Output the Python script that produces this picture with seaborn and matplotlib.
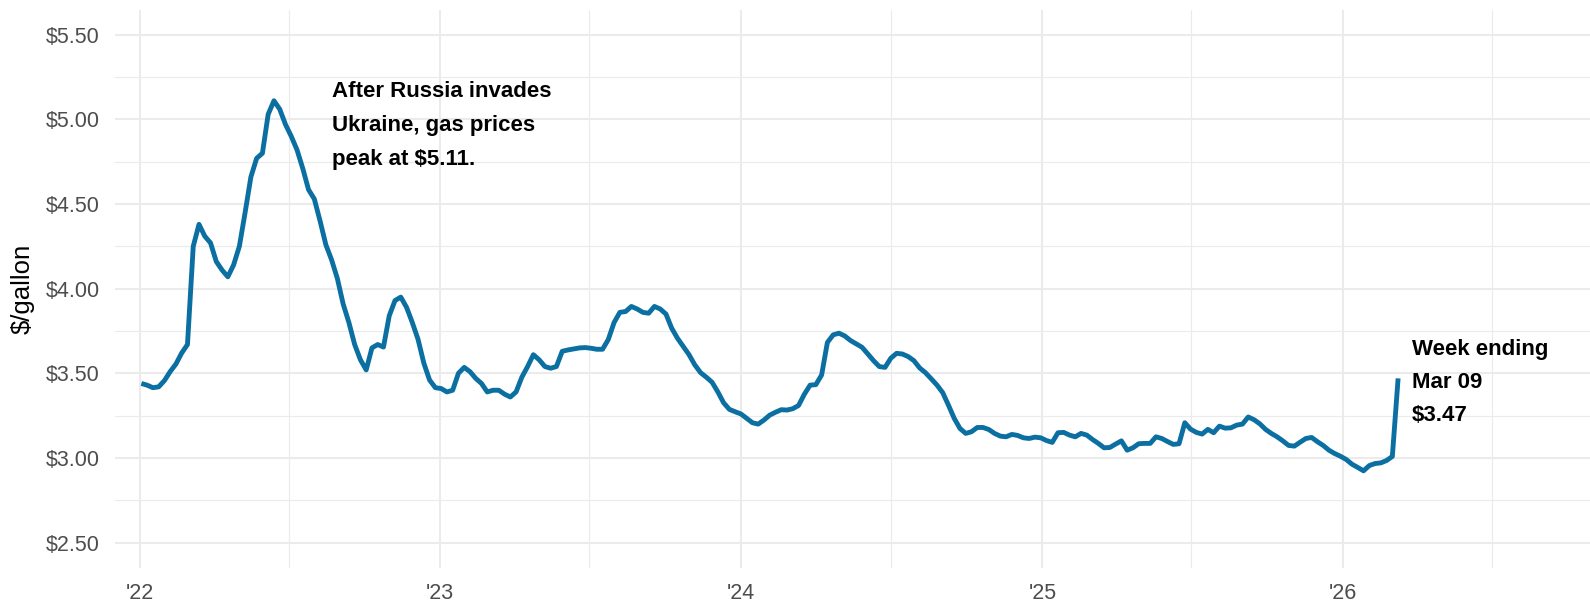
import pandas as pd
import matplotlib.pyplot as plt
import seaborn as sns
from matplotlib.ticker import FuncFormatter, FixedLocator
import matplotlib.dates as mdates

# Precio semanal de la gasolina ($/galon), semanas desde 2022-01-03
week_start = "2022-01-03"

prices_2022 = [3.44, 3.43, 3.415, 3.42, 3.457, 3.51, 3.555, 3.62, 3.67, 4.25,
               4.38, 4.31, 4.27, 4.16, 4.11, 4.07, 4.14, 4.25, 4.45, 4.66,
               4.77, 4.80, 5.03, 5.11, 5.06, 4.97, 4.90, 4.82, 4.71, 4.585,
               4.53, 4.40, 4.26, 4.17, 4.06, 3.91, 3.80, 3.67, 3.58, 3.52,
               3.65, 3.67, 3.655, 3.84, 3.93, 3.95, 3.89, 3.80, 3.70, 3.56,
               3.46, 3.415]
prices_2023 = [3.41, 3.39, 3.40, 3.50, 3.535, 3.51, 3.47, 3.44, 3.39, 3.40,
               3.40, 3.377, 3.36, 3.39, 3.477, 3.54, 3.61, 3.58, 3.54, 3.53,
               3.54, 3.63, 3.638, 3.644, 3.65, 3.652, 3.648, 3.642, 3.642, 3.70,
               3.80, 3.86, 3.865, 3.895, 3.88, 3.86, 3.855, 3.895, 3.88, 3.85,
               3.766, 3.707, 3.658, 3.61, 3.55, 3.504, 3.477, 3.447, 3.39, 3.326,
               3.287, 3.273]
prices_2024 = [3.26, 3.234, 3.208, 3.20, 3.224, 3.253, 3.27, 3.285, 3.283, 3.291,
               3.31, 3.376, 3.43, 3.433, 3.49, 3.682, 3.727, 3.737, 3.721, 3.694,
               3.674, 3.654, 3.615, 3.575, 3.54, 3.535, 3.589, 3.618, 3.614, 3.599,
               3.575, 3.532, 3.504, 3.468, 3.431, 3.386, 3.312, 3.234, 3.174, 3.145,
               3.155, 3.18, 3.18, 3.168, 3.145, 3.129, 3.125, 3.139, 3.133, 3.119,
               3.115, 3.123]
prices_2025 = [3.119, 3.103, 3.092, 3.149, 3.151, 3.135, 3.125, 3.145, 3.135, 3.109,
               3.086, 3.06, 3.062, 3.082, 3.101, 3.046, 3.06, 3.084, 3.086, 3.086,
               3.125, 3.115, 3.097, 3.08, 3.084, 3.208, 3.17, 3.151, 3.141, 3.169,
               3.149, 3.188, 3.176, 3.178, 3.194, 3.20, 3.242, 3.226, 3.202, 3.169,
               3.145, 3.125, 3.101, 3.074, 3.07, 3.093, 3.115, 3.121, 3.096, 3.074,
               3.046, 3.026]
prices_2026 = [3.01, 2.991, 2.963, 2.944, 2.924, 2.955, 2.967, 2.971, 2.985, 3.009,
               3.47]

year_ticks = ["2022-01-01", "2023-01-01", "2024-01-01", "2025-01-01", "2026-01-01"]
year_labels = ["'22", "'23", "'24", "'25", "'26"]
mid_year_ticks = ["2022-07-01", "2023-07-01", "2024-07-01", "2025-07-01", "2026-07-01"]
price_ticks = [2.5, 3.0, 3.5, 4.0, 4.5, 5.0, 5.5]
price_minor = [2.75, 3.25, 3.75, 4.25, 4.75, 5.25]

peak_note = "After Russia invades\nUkraine, gas prices\npeak at $5.11."
last_note = "Week ending\nMar 09\n$3.47"

prices = prices_2022 + prices_2023 + prices_2024 + prices_2025 + prices_2026
df = pd.DataFrame({
    "week": pd.date_range(week_start, periods=len(prices), freq="7D"),
    "price": prices,
})

sns.set_theme(style="white")
plt.rcParams["font.family"] = ["Liberation Sans", "DejaVu Sans"]

fig = plt.figure(figsize=(15.9, 6.03), dpi=100)
ax = fig.add_axes([115 / 1590, 35 / 603, 1475 / 1590, 558 / 603])

sns.lineplot(data=df, x="week", y="price", color="#0C6FA2", linewidth=3.5,
             ax=ax, solid_capstyle="butt", solid_joinstyle="round")

ax.set_xlim(pd.Timestamp("2021-12-02"), pd.Timestamp("2026-10-28"))
ax.set_ylim(2.35, 5.646)

ax.set_xticks(pd.to_datetime(year_ticks))
ax.set_xticklabels(year_labels)
ax.xaxis.set_minor_locator(FixedLocator(mdates.date2num(pd.to_datetime(mid_year_ticks))))
ax.set_yticks(price_ticks)
ax.yaxis.set_minor_locator(FixedLocator(price_minor))
ax.yaxis.set_major_formatter(FuncFormatter(lambda v, p: f"${v:.2f}"))

ax.grid(which="major", color="#EBEBEB", linewidth=1.5)
ax.grid(which="minor", color="#EBEBEB", linewidth=0.8)
ax.tick_params(which="both", length=0)
ax.tick_params(axis="y", pad=10.8, labelsize=15.5, labelcolor="#4D4D4D")
ax.tick_params(axis="x", pad=10.8, labelsize=15.5, labelcolor="#4D4D4D")
sns.despine(ax=ax, left=True, bottom=True)

ax.set_xlabel("")
ax.set_ylabel("$/gallon", fontsize=18.5, color="black", labelpad=8)

ax.text(pd.Timestamp("2022-08-23"), 5.228, peak_note, ha="left", va="top",
        fontsize=16, fontweight="bold", color="black", linespacing=1.82)
ax.text(pd.Timestamp("2026-03-26"), 3.702, last_note, ha="left", va="top",
        fontsize=16, fontweight="bold", color="black", linespacing=1.74)

plt.savefig("out.png", dpi=100)
